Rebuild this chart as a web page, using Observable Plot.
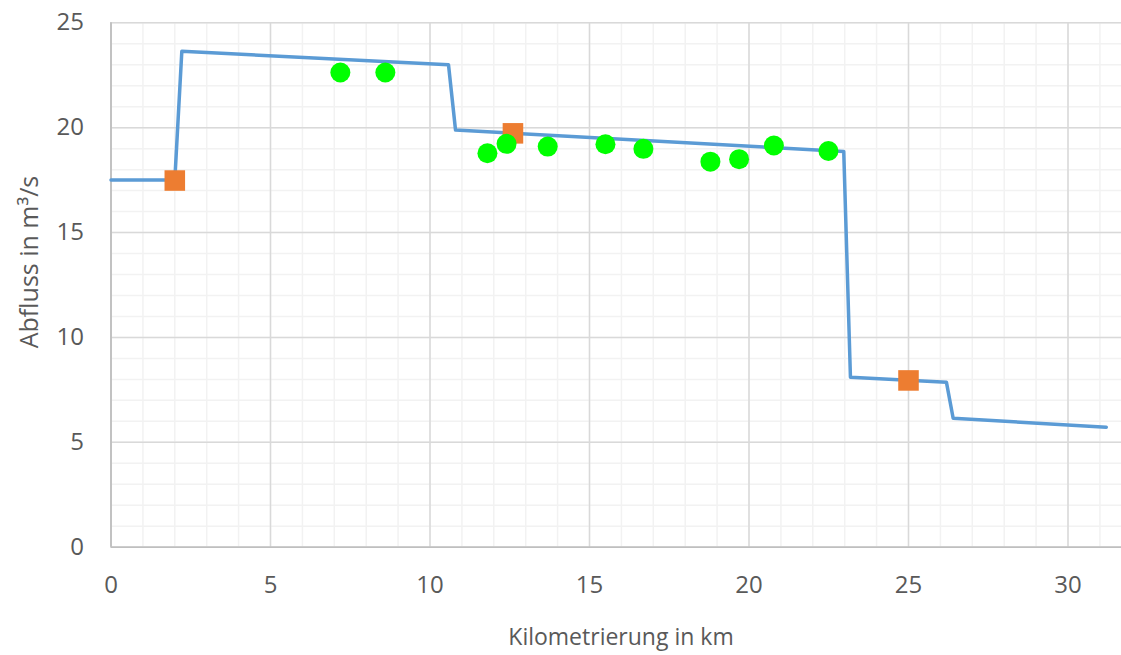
<!DOCTYPE html>
<html>
<head>
<meta charset="utf-8">
<script src="https://cdn.jsdelivr.net/npm/d3@7"></script>
<script src="https://cdn.jsdelivr.net/npm/@observablehq/plot@0.6"></script>
<style>
html,body{margin:0;padding:0;background:#fff;overflow:hidden;width:1121px;height:655px;}
#chart{position:relative;width:1121px;height:655px;overflow:hidden;}
#chart svg{max-width:none !important;}
</style>
</head>
<body>
<div id="chart"></div>
<script>
// Modelled discharge (line)
const lineKm = [0, 2.0, 2.22, 10.58, 10.8, 22.97, 23.18, 26.19, 26.4, 31.2];
const lineQ  = [17.5, 17.5, 23.64, 23.0, 19.89, 18.87, 8.1, 7.86, 6.15, 5.72];
// Gauges (orange squares)
const gaugeKm = [2.0, 12.6, 25.0];
const gaugeQ  = [17.48, 19.73, 7.95];
// Measurements (green circles)
const measKm = [7.19, 8.6, 11.8, 12.4, 13.69, 15.5, 16.69, 18.79, 19.69, 20.78, 22.49];
const measQ  = [22.63, 22.63, 18.78, 19.23, 19.1, 19.21, 18.99, 18.38, 18.5, 19.15, 18.89];
// Axes
const xTicks = [0, 5, 10, 15, 20, 25, 30];
const yTicks = [0, 5, 10, 15, 20, 25];
const xMinor = d3.range(0, 33, 1);
const yMinor = d3.range(0, 26, 1);
const xLabel = "Kilometrierung in km";
const yLabel = "Abfluss in m³/s";

const lineData = lineKm.map((k, i) => ({km: k, q: lineQ[i]}));
const gaugeData = gaugeKm.map((k, i) => ({km: k, q: gaugeQ[i]}));
const measData = measKm.map((k, i) => ({km: k, q: measQ[i]}));

const font = "'Open Sans', 'DejaVu Sans', sans-serif";
const mL = 110.5, pxPerKm = 31.9, xMax = 32;
const W = Math.ceil(mL + xMax * pxPerKm);

const plot = Plot.plot({
  width: W,
  height: 655,
  marginLeft: mL,
  marginRight: W - (mL + xMax * pxPerKm),
  marginTop: 22.3,
  marginBottom: 108.3,
  style: {fontFamily: font, background: "#fff", overflow: "visible", maxWidth: "none"},
  x: {domain: [0, xMax], axis: null},
  y: {domain: [0, 25], axis: null},
  marks: [
    Plot.ruleX(xMinor, {stroke: "#F2F2F2", strokeWidth: 1.5}),
    Plot.ruleY(yMinor, {stroke: "#F2F2F2", strokeWidth: 1.5}),
    Plot.ruleX(xTicks, {stroke: "#D9D9D9", strokeWidth: 1.5}),
    Plot.ruleY(yTicks.filter(d => d > 0), {stroke: "#D9D9D9", strokeWidth: 1.5}),
    Plot.ruleY([0], {stroke: "#BFBFBF", strokeWidth: 1.8}),
    Plot.ruleX([0], {stroke: "#BFBFBF", strokeWidth: 1.8}),
    Plot.axisX(xTicks, {tickSize: 0, tickPadding: 29, fontSize: 24, fill: "#595959", label: null}),
    Plot.axisY(yTicks, {tickSize: 0, tickPadding: 27, fontSize: 24, fill: "#595959", label: null}),
    Plot.line(lineData, {x: "km", y: "q", stroke: "#5B9BD5", strokeWidth: 3.5, strokeLinejoin: "round"}),
    Plot.dot(gaugeData, {x: "km", y: "q", symbol: "square", r: 11.6, fill: "#ED7D31", stroke: null}),
    Plot.dot(measData, {x: "km", y: "q", r: 10, fill: "#00FF00", stroke: null})
  ]
});

const container = document.getElementById("chart");
container.appendChild(plot);

// axis titles
const svg = d3.select(plot);
svg.append("text")
  .attr("x", 621).attr("y", 645)
  .attr("text-anchor", "middle")
  .attr("font-family", font).attr("font-size", 23).attr("fill", "#595959")
  .text(xLabel);
svg.append("text")
  .attr("transform", "translate(38,262) rotate(-90)")
  .attr("text-anchor", "middle")
  .attr("font-family", font).attr("font-size", 25).attr("fill", "#595959")
  .text(yLabel);
</script>
</body>
</html>
